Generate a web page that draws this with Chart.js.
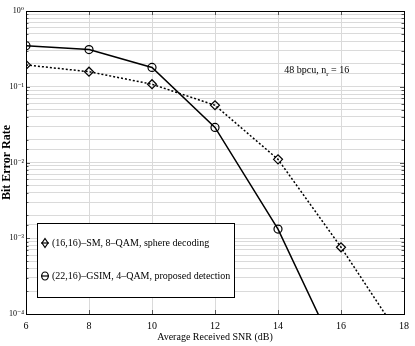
<!DOCTYPE html>
<html>
<head>
<meta charset="utf-8">
<script src="https://cdn.jsdelivr.net/npm/chart.js@4"></script>
<style>
  html,body{margin:0;padding:0;background:#fff}
  #wrap{width:415px;height:346px;position:relative}
</style>
</head>
<body>
<div id="wrap"><canvas id="c"></canvas></div>
<script>
// SNR axis (dB) and BER curves
const snr = [6, 8, 10, 12, 14, 16, 18];
const berSM = [0.194, 0.158, 0.108, 0.057, 0.011, 7.6e-4, 4.2e-5];   // (16,16)-SM, sphere decoding
const berGSIM = [0.348, 0.31, 0.18, 0.029, 1.32e-3, 2.3e-5];          // (22,16)-GSIM, proposed
const xTicks = [6, 8, 10, 12, 14, 16, 18];
const yMajor = {0: '10⁰', '-1': '10⁻¹', '-2': '10⁻²', '-3': '10⁻³', '-4': '10⁻⁴'};
const legendLabels = ['(16,16)–SM, 8–QAM, sphere decoding', '(22,16)–GSIM, 4–QAM, proposed detection'];
const note = {x: 14.2, y: 0.15, text: '48 bpcu, n', sub: 'r', rest: ' = 16'};

const serif = '"Liberation Serif", "DejaVu Serif", serif';
const gc = '#dadada';

// box frame, inner ticks, legend, text note
const extras = {
  id: 'extras',
  afterDraw(chart) {
    const {ctx, chartArea: a, scales} = chart;
    ctx.save();
    ctx.strokeStyle = '#555'; ctx.lineWidth = 1;
    ctx.beginPath();
    scales.y.ticks.forEach(t => {
      const y = Math.round(scales.y.getPixelForValue(t.value)) + .5;
      const len = t.label ? 4 : 2.5;
      ctx.moveTo(a.left, y); ctx.lineTo(a.left + len, y);
      ctx.moveTo(a.right, y); ctx.lineTo(a.right - len, y);
    });
    scales.x.ticks.forEach(t => {
      const x = Math.round(scales.x.getPixelForValue(t.value)) + .5;
      ctx.moveTo(x, a.bottom); ctx.lineTo(x, a.bottom - 4);
      ctx.moveTo(x, a.top); ctx.lineTo(x, a.top + 4);
    });
    ctx.stroke();
    ctx.strokeStyle = '#000';
    ctx.strokeRect(a.left + .5, a.top + .5, a.right - a.left, a.bottom - a.top);

    // legend box
    const lx = 37, ly = 223, lw = 197, lh = 74;
    ctx.fillStyle = '#fff';
    ctx.fillRect(lx, ly, lw, lh);
    ctx.strokeRect(lx + .5, ly + .5, lw, lh);
    ctx.font = '10px ' + serif;
    ctx.textBaseline = 'middle';
    ctx.fillStyle = '#000';
    chart.data.datasets.forEach((ds, i) => {
      const yy = ly + 20 + i * 33;
      ctx.lineWidth = 1.2;
      ctx.beginPath();
      if (ds.pointStyle === 'rectRot') {
        ctx.moveTo(45, yy - 4.5); ctx.lineTo(48, yy); ctx.lineTo(45, yy + 4.5); ctx.lineTo(42, yy); ctx.closePath();
      } else {
        ctx.ellipse(45, yy, 3.3, 4, 0, 0, Math.PI * 2);
      }
      ctx.stroke();
      ctx.beginPath(); ctx.moveTo(41, yy); ctx.lineTo(49, yy); ctx.stroke();
      ctx.fillText(legendLabels[i], 52, yy);
    });

    // annotation
    const px = scales.x.getPixelForValue(note.x), py = scales.y.getPixelForValue(note.y);
    ctx.font = '10px ' + serif;
    ctx.textBaseline = 'alphabetic';
    ctx.fillText(note.text, px, py);
    let w = ctx.measureText(note.text).width;
    ctx.font = '7px ' + serif;
    ctx.fillText(note.sub, px + w, py + 3);
    w += ctx.measureText(note.sub).width;
    ctx.font = '10px ' + serif;
    ctx.fillText(note.rest, px + w, py);
    ctx.restore();
  }
};

new Chart(document.getElementById('c'), {
  type: 'line',
  data: {
    datasets: [
      {label: legendLabels[0], data: snr.map((x, i) => ({x, y: berSM[i]})), borderColor: '#000', borderWidth: 1.5,
       borderDash: [2, 2], pointStyle: 'rectRot', pointRadius: 4.5, pointBorderWidth: 1.2,
       pointBackgroundColor: 'rgba(0,0,0,0)', pointBorderColor: '#000', tension: 0},
      {label: legendLabels[1], data: snr.slice(0, berGSIM.length).map((x, i) => ({x, y: berGSIM[i]})), borderColor: '#000', borderWidth: 1.5,
       pointStyle: 'circle', pointRadius: 4, pointBorderWidth: 1.2,
       pointBackgroundColor: 'rgba(0,0,0,0)', pointBorderColor: '#000', tension: 0}
    ]
  },
  options: {
    responsive: true, maintainAspectRatio: false, animation: false,
    layout: {padding: {top: 11, right: 11, left: 0, bottom: 0}},
    plugins: {legend: {display: false}, tooltip: {enabled: false}},
    scales: {
      x: {
        type: 'linear', min: 6, max: 18,
        afterBuildTicks: s => { s.ticks = xTicks.map(v => ({value: v})); },
        afterFit: s => { s.height = 32; },
        grid: {color: gc, borderDash: [1, 2], drawTicks: false},
        border: {display: false},
        ticks: {color: '#000', font: {family: serif, size: 10}, padding: 6},
        title: {display: true, text: 'Average Received SNR (dB)', color: '#000', font: {family: serif, size: 10}, padding: {top: 0, bottom: 3}}
      },
      y: {
        type: 'logarithmic', min: 1e-4, max: 1,
        afterFit: s => { s.width = 26; },
        grid: {color: gc, borderDash: [4, 2], drawTicks: false},
        border: {display: false},
        ticks: {
          color: '#000', font: {family: serif, size: 8}, padding: 2, autoSkip: false,
          callback: v => {
            const e = Math.log10(v);
            return Math.abs(e - Math.round(e)) < 1e-9 ? yMajor[Math.round(e)] : '';
          }
        },
        title: {display: true, text: 'Bit Error Rate', color: '#000', font: {family: serif, size: 12, weight: 'bold'}, padding: {top: 0, bottom: 0}}
      }
    }
  },
  plugins: [extras]
});
</script>
</body>
</html>
